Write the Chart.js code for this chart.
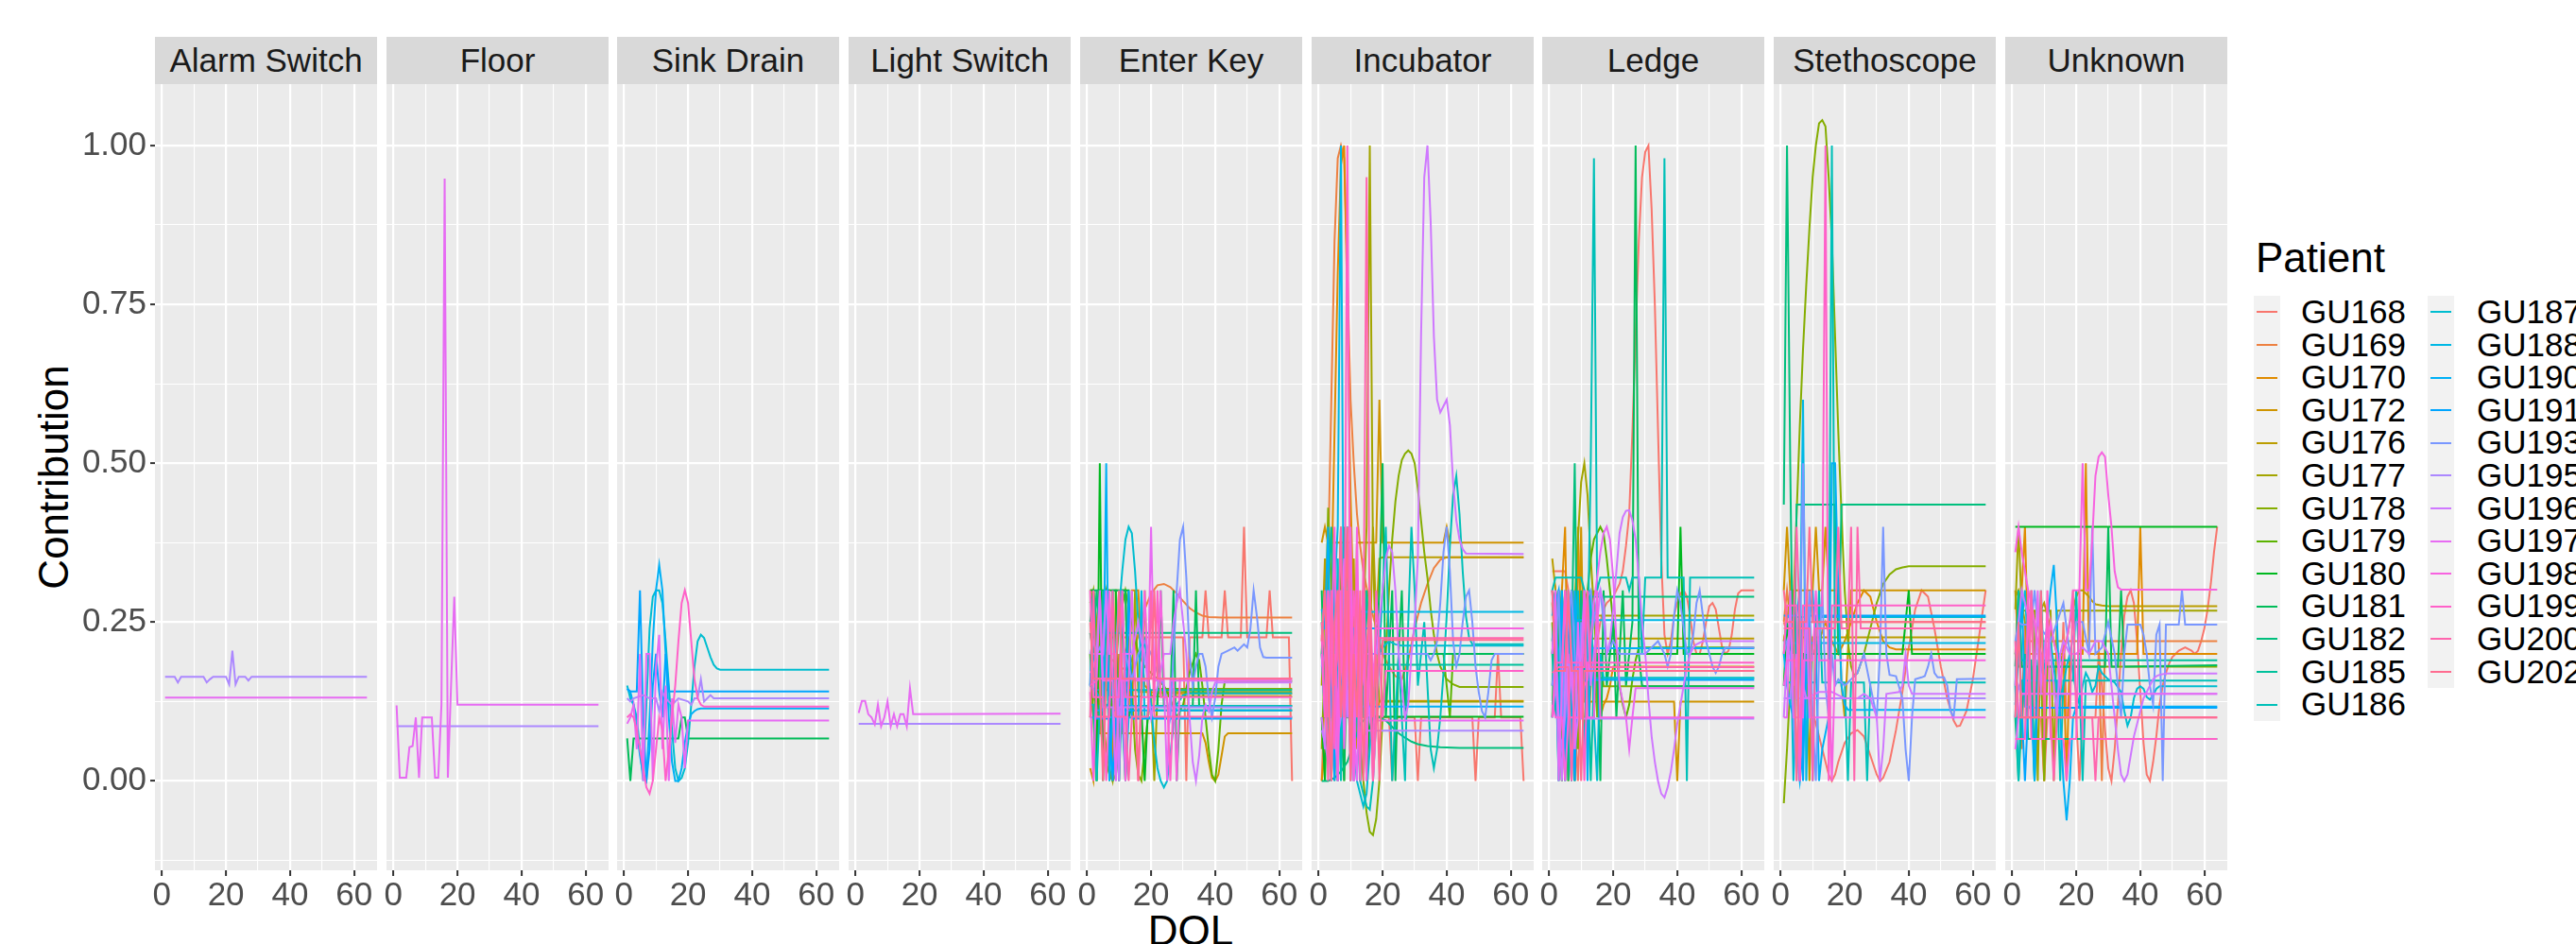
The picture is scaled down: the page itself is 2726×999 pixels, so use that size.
<!DOCTYPE html>
<html>
<head>
<meta charset="UTF-8">
<title>Contribution by DOL</title>
<script src="https://cdn.jsdelivr.net/npm/chart.js@4.4.4/dist/chart.umd.min.js"></script>
<style>
  body { margin: 0; width: 2726px; height: 999px; overflow: hidden; position: relative; background: #fff;
         font-family: "Liberation Sans", Arial, sans-serif; }
  .strip { position: absolute; top: 39px; height: 50px; line-height: 50px; background: #d9d9d9;
           color: #1a1a1a; font-size: 35px; text-align: center; white-space: nowrap; }
  .panel { position: absolute; top: 89px; }
  .title { position: absolute; font-size: 44px; color: #000; white-space: nowrap; }
  .key-bg { position: absolute; background: #f2f2f2; }
  .key-line { position: absolute; height: 2px; }
  .key-text { position: absolute; font-size: 35px; height: 34.6px; line-height: 34.6px; color: #000; white-space: nowrap; }
</style>
</head>
<body>
<div class="title" style="left:-143px;top:480px;width:400px;height:50px;line-height:50px;text-align:center;transform:rotate(-90deg);">Contribution</div>
<div class="title" style="left:1060px;top:963px;width:400px;line-height:44px;text-align:center;">DOL</div>
<div class="title" style="left:2387px;top:251px;line-height:44px;">Patient</div>

<script>
// ---- data -------------------------------------------------------------
const patients = ['GU168','GU169','GU170','GU172','GU176','GU177','GU178','GU179','GU180','GU181','GU182','GU185','GU186',
                  'GU187','GU188','GU190','GU191','GU193','GU195','GU196','GU197','GU198','GU199','GU200','GU202'];
const facets = ['Alarm Switch','Floor','Sink Drain','Light Switch','Enter Key','Incubator','Ledge','Stethoscope','Unknown'];
const xTicks = [0, 10, 20, 30, 40, 50, 60];
const yTicks = [-0.125, 0, 0.125, 0.25, 0.375, 0.5, 0.625, 0.75, 0.875, 1.0];

// each row: patient, flat list of (DOL, contribution) pairs
const alarmSwitch = [
  ['GU195', [1,.164, 4,.164, 5,.155, 6,.164, 13,.164, 14,.155, 15,.16, 16,.164, 20,.164, 21,.152, 22,.205, 23,.152, 24,.164, 26,.164, 27,.158, 28,.164, 64,.164]],
  ['GU197', [1,.131, 64,.131]]
];
const floor = [
  ['GU195', [1,.086, 64,.086]],
  ['GU197', [1,.119, 2,.005, 4,.005, 5,.053, 6,.055, 7,.1, 8,.005, 9,.1, 12,.1, 13,.005, 14,.005, 15,.12, 16,.948, 17,.005, 18,.15, 19,.29, 20,.12, 64,.12]]
];
const sinkDrain = [
  ['GU181', [1,.067, 2,0, 3,.067, 17,.067, 18,.1, 19,.1, 20,.067, 64,.067]],
  ['GU187', [1,.15, 2,.13, 3,.12, 4,.1, 5,.05, 6,0, 7,.12, 8,.24, 9,.29, 10,.3, 11,.3, 12,.28, 13,.22, 14,.15, 15,.08, 16,.02, 17,0, 18,.005, 19,.02, 20,.06, 21,.12, 22,.18, 23,.22, 24,.23, 25,.225, 26,.21, 27,.195, 28,.183, 29,.177, 30,.175, 64,.175]],
  ['GU190', [1,.145, 2,.14, 3,.12, 4,.08, 5,.04, 6,.01, 7,0, 8,.1, 9,.22, 10,.3, 11,.34, 12,.3, 13,.2, 14,.1, 15,.03, 16,0, 17,0, 18,.02, 19,.06, 20,.09, 21,.105, 22,.11, 23,.113, 24,.114, 64,.114]],
  ['GU191', [1,.145, 2,.141, 4,.141, 5,.3, 6,.1, 7,0, 8,.05, 9,.15, 10,.2, 11,.141, 12,.1, 13,.2, 14,.141, 64,.141]],
  ['GU195', [1,.13, 2,.125, 3,.13, 6,.135, 8,.13, 10,.13, 11,.11, 12,.14, 13,.13, 15,.12, 17,.13, 20,.125, 21,.12, 22,.13, 23,.13, 24,.16, 25,.125, 26,.13, 27,.135, 28,.13, 64,.13]],
  ['GU197', [1,.09, 2,.1, 3,.12, 4,.05, 5,.2, 6,0, 7,.2, 8,.2, 9,0, 10,.18, 11,.23, 12,.05, 13,.15, 14,0, 15,.13, 16,.06, 17,.12, 18,.1, 19,.02, 20,.095, 64,.095]],
  ['GU199', [1,.1, 2,.105, 3,.1, 4,.08, 5,.05, 6,.02, 7,-.01, 8,-.02, 9,0, 10,.05, 11,.1, 12,.08, 13,0, 14,.05, 15,.1, 16,.15, 17,.22, 18,.28, 19,.3, 20,.28, 21,.22, 22,.16, 23,.13, 24,.12, 25,.117, 64,.117]]
];
const lightSwitch = [
  ['GU195', [1,.09, 64,.09]],
  ['GU197', [1,.107, 2,.126, 3,.126, 4,.105, 5,.1, 6,.089, 7,.12, 8,.086, 9,.1, 10,.125, 11,.086, 12,.105, 13,.086, 14,.105, 15,.105, 16,.086, 17,.146, 18,.105, 64,.106]]
];
const enterKey = [
  ['GU168', [1,.226, 9,.226, 10,.3, 11,.226, 13,.226, 14,.1, 15,.226, 30,.226, 31,0, 32,.226, 36,.226, 37,.3, 38,.226, 42,.226, 43,.3, 44,.226, 48,.226, 49,.4, 50,.226, 56,.226, 57,.3, 58,.226, 63,.226, 64,0]],
  ['GU169', [1,.3, 2,.29, 3,.25, 4,.22, 6,.2, 8,.19, 10,.18, 12,.175, 14,.19, 16,.23, 18,.27, 20,.295, 22,.308, 24,.31, 26,.305, 28,.295, 30,.283, 32,.272, 34,.265, 36,.26, 38,.258, 42,.257, 64,.257]],
  ['GU170', [1,.3, 2,.3, 3,.2, 4,.3, 7,.3, 8,0, 9,.3, 12,.3, 13,.1, 14,.3, 16,.3, 17,.2, 18,.15, 20,.14, 22,.137, 64,.137]],
  ['GU172', [1,.02, 2,0, 3,.15, 4,.075, 9,.075, 10,.2, 11,.075, 36,.075, 37,.06, 38,.03, 39,.005, 40,0, 41,.01, 42,.04, 43,.07, 44,.075, 64,.075]],
  ['GU176', [1,.1, 2,.13, 5,.133, 6,.3, 7,.133, 11,.133, 12,0, 13,.133, 17,.133, 18,.3, 19,.133, 64,.133]],
  ['GU177', [1,.3, 2,.3, 3,.25, 4,.2, 5,.1, 6,.05, 7,.02, 8,0, 9,.05, 10,.14, 14,.14, 15,.3, 16,.14, 20,.14, 21,0, 22,.14, 64,.14]],
  ['GU178', [1,.28, 2,.3, 3,.22, 4,.1, 5,.05, 6,.03, 7,.01, 8,0, 9,.01, 10,.05, 11,.12, 12,.2, 13,.22, 14,.15, 15,.05, 16,.01, 17,0, 18,.05, 19,.1, 20,.13, 22,.145, 64,.145]],
  ['GU179', [1,.2, 3,0, 4,.25, 6,.3, 8,.1, 10,.25, 12,.3, 14,.25, 16,.2, 18,.18, 20,.17, 22,.16, 24,.15, 26,.13, 28,.1, 30,.12, 32,.17, 34,.2, 35,.19, 36,.15, 37,.1, 38,.05, 39,.01, 40,0, 41,.05, 42,.12, 43,.157, 64,.157]],
  ['GU180', [1,.3, 2,.3, 3,0, 4,.5, 5,0, 6,.3, 9,.3, 10,0, 11,.3, 13,.3, 14,.111, 17,.111, 18,0, 19,.111, 64,.111]],
  ['GU181', [1,.25, 2,.3, 6,.3, 7,0, 8,.3, 12,.3, 13,.1, 14,.118, 22,.118, 23,.3, 24,.118, 26,.118, 27,.3, 28,0, 29,.118, 33,.118, 34,.3, 35,.118, 64,.118]],
  ['GU182', [1,.233, 2,.2, 3,.3, 4,.233, 64,.233]],
  ['GU185', [1,.15, 2,.143, 4,.143, 5,.3, 6,.143, 9,.143, 10,0, 11,.143, 64,.143]],
  ['GU186', [1,.12, 2,.12, 3,0, 4,.118, 7,.118, 8,.3, 9,.118, 64,.118]],
  ['GU187', [1,.15, 3,.14, 5,.12, 7,.12, 8,.15, 9,.2, 10,.27, 11,.33, 12,.38, 13,.4, 14,.39, 15,.33, 16,.25, 17,.2, 18,.22, 19,.18, 20,.12, 21,.06, 22,.02, 23,0, 24,-.01, 25,0, 26,.04, 27,.09, 28,.12, 30,.135, 32,.138, 64,.138]],
  ['GU188', [1,.1, 5,.1, 6,.3, 7,.1, 11,.1, 12,0, 13,.1, 16,.1, 17,.3, 18,.1, 64,.1]],
  ['GU190', [1,.15, 2,.2, 3,.111, 5,.111, 6,.5, 7,0, 8,.111, 10,.111, 11,.3, 12,.111, 64,.111]],
  ['GU191', [1,.15, 2,.3, 3,.098, 7,.098, 8,0, 9,.098, 12,.098, 13,.3, 14,.098, 64,.098]],
  ['GU193', [1,.2, 3,.2, 4,.21, 5,.2, 6,.3, 7,.2, 9,.2, 10,.3, 11,.1, 12,.2, 14,.16, 16,.2, 18,.22, 20,.2, 22,.17, 24,.15, 26,.1, 27,.2, 28,.3, 29,.38, 30,.4, 31,.32, 32,.2, 33,.15, 34,.18, 35,.2, 36,.2, 37,.18, 38,.13, 39,.1, 40,.13, 41,.18, 42,.2, 44,.205, 46,.21, 47,.205, 48,.21, 49,.215, 50,.21, 51,.24, 52,.3, 53,.26, 54,.21, 55,.195, 56,.194, 64,.194]],
  ['GU195', [1,.2, 2,.22, 3,.2, 4,.3, 5,.116, 8,.116, 9,0, 10,.116, 64,.116]],
  ['GU196', [1,.17, 2,.18, 3,.2, 5,.2, 6,.3, 7,.2, 9,.2, 10,0, 11,.2, 14,.2, 16,.25, 17,.22, 18,.2, 19,.15, 20,.1, 22,.15, 24,.2, 26,.2, 27,.25, 28,.28, 29,.3, 30,.25, 31,.2, 32,.1, 33,.03, 34,0, 35,.04, 36,.1, 37,.12, 38,.11, 39,.14, 40,.155, 64,.155]],
  ['GU197', [1,.15, 3,.158, 4,.3, 5,.158, 8,.158, 9,0, 10,.158, 13,.158, 14,.3, 15,.158, 19,.158, 20,.4, 21,.158, 24,.158, 25,0, 26,.158, 64,.158]],
  ['GU198', [1,.14, 2,0, 3,.161, 6,.161, 7,.3, 8,.161, 11,.161, 12,0, 13,.161, 17,.161, 18,.3, 19,.161, 22,.161, 23,.3, 24,.161, 27,.161, 28,0, 29,.161, 64,.161]],
  ['GU199', [1,.3, 2,.132, 5,.132, 6,0, 7,.132, 10,.132, 11,.3, 12,.132, 15,.132, 16,0, 17,.132, 21,.132, 22,.3, 23,.132, 25,.132, 26,0, 27,.132, 64,.132]],
  ['GU200', [1,.1, 2,.3, 3,.101, 7,.101, 8,.3, 9,.101, 12,.101, 13,0, 14,.101, 19,.101, 20,.3, 21,.101, 64,.101]],
  ['GU202', [1,.25, 2,.161, 4,.161, 5,0, 6,.161, 9,.161, 10,.3, 11,.161, 15,.161, 16,0, 17,.161, 20,.161, 21,.3, 22,.161, 64,.161]]
];
const incubator = [
  ['GU168', [1,.1, 4,.1, 5,.2, 6,.1, 22,.1, 23,0, 24,.1, 30,.1, 31,0, 32,.1, 48,.1, 49,0, 50,.1, 55,.1, 56,.2, 57,.1, 63,.1, 64,0]],
  ['GU169', [1,0, 2,.15, 3,.35, 4,.6, 5,.85, 6,.98, 7,1.0, 8,.98, 9,.8, 10,.6, 11,.5, 12,.42, 13,.37, 14,.33, 16,.28, 18,.24, 20,.2, 22,.18, 24,.165, 26,.16, 28,.19, 30,.24, 32,.28, 34,.31, 36,.335, 38,.348, 40,.352, 64,.352]],
  ['GU170', [1,0, 2,.05, 3,.15, 4,.3, 5,.55, 6,.8, 7,.97, 8,1.0, 9,.75, 10,.45, 11,.25, 12,.15, 13,.2, 14,.3, 15,.2, 16,.1, 17,.05, 18,.1, 19,.126, 64,.126]],
  ['GU172', [1,.375, 2,.4, 3,.375, 10,.375, 11,.1, 12,.375, 18,.375, 19,.6, 20,.375, 39,.375, 40,.4, 41,.375, 64,.375]],
  ['GU176', [1,.2, 2,.35, 3,.1, 4,.3, 5,.05, 6,.25, 7,.4, 8,.1, 9,.3, 10,.15, 11,.35, 12,.05, 13,.2, 14,.3, 15,.1, 16,.2, 17,.4, 18,.25, 19,.35, 20,.352, 64,.352]],
  ['GU177', [1,.15, 2,.3, 3,.05, 4,.2, 5,.35, 6,.1, 7,.25, 8,0, 9,.3, 10,.15, 11,.05, 12,.3, 13,.1, 14,.25, 15,.4, 16,1.0, 17,.35, 18,.2, 19,.125, 64,.125]],
  ['GU178', [1,.05, 2,.2, 3,.43, 4,.3, 5,.2, 6,.3, 7,.25, 8,.2, 9,.22, 10,.2, 11,.18, 12,.12, 13,.06, 14,0, 15,-.05, 16,-.08, 17,-.085, 18,-.06, 19,0, 20,.1, 21,.2, 22,.3, 23,.38, 24,.44, 25,.48, 26,.505, 27,.515, 28,.52, 29,.515, 30,.5, 31,.46, 32,.41, 33,.36, 34,.32, 35,.27, 36,.23, 37,.2, 38,.18, 40,.16, 42,.152, 44,.148, 64,.148]],
  ['GU179', [1,.2, 2,.1, 3,.3, 4,.15, 5,0, 6,.2, 7,.35, 8,.1, 9,.2, 10,.3, 11,.05, 12,.2, 13,.25, 14,.1, 15,.3, 16,.2, 17,.15, 18,.2, 39,.2, 40,.15, 41,.1, 42,.2, 64,.2]],
  ['GU180', [1,.1, 2,0, 3,.2, 4,.3, 5,.1, 6,0, 7,.2, 8,.4, 9,.1, 10,.2, 11,.05, 12,.3, 13,.1, 14,.2, 15,0, 16,.1, 17,.101, 64,.101]],
  ['GU181', [1,.3, 2,.1, 3,.25, 4,0, 5,.2, 6,.3, 7,.1, 8,0, 9,.25, 10,.3, 11,.1, 12,.2, 13,0, 14,.3, 15,.15, 16,.25, 17,.05, 18,.2, 19,.3, 20,.5, 21,.1, 22,.2, 23,.3, 24,0, 25,.2, 26,.3, 27,.1, 28,.2, 64,.2]],
  ['GU182', [1,0, 3,0, 5,.005, 7,.015, 9,.03, 11,.06, 13,.09, 15,.1, 17,.1, 19,.1, 21,.095, 23,.085, 25,.075, 27,.068, 29,.062, 31,.058, 34,.055, 38,.053, 44,.052, 64,.052]],
  ['GU185', [1,.25, 2,.1, 3,.3, 4,.4, 5,.2, 6,.05, 7,.3, 8,.15, 9,.4, 10,.2, 11,0, 12,.3, 13,.2, 14,.1, 15,.3, 16,.183, 64,.183]],
  ['GU186', [1,.2, 2,.3, 3,.1, 4,0, 5,.3, 6,.2, 7,0, 8,.3, 9,.15, 10,.05, 11,.2, 12,.1, 13,0, 14,-.02, 15,-.04, 16,-.045, 17,0, 18,.1, 19,.2, 20,.3, 21,.4, 22,.2, 23,0, 24,.1, 25,.2, 26,.1, 27,0, 28,.25, 29,.4, 30,.3, 31,.15, 32,.2, 33,.25, 34,.15, 35,.05, 36,.02, 37,.05, 38,.1, 39,.17, 40,.26, 41,.37, 42,.45, 43,.48, 44,.42, 45,.33, 46,.26, 47,.225, 48,.215, 64,.215]],
  ['GU187', [1,.27, 2,.25, 3,.2, 4,.3, 5,.1, 6,.35, 7,.05, 8,.2, 9,.3, 10,.1, 11,.05, 12,0, 13,-.02, 14,-.04, 15,-.02, 16,.05, 17,.15, 18,.2, 19,.2, 20,.21, 22,.22, 24,.215, 26,.213, 64,.213]],
  ['GU188', [1,.27, 2,.26, 3,.2, 4,.1, 5,.3, 6,.4, 7,1.0, 8,.1, 9,.3, 10,0, 11,.2, 12,.27, 13,.266, 64,.266]],
  ['GU190', [1,.24, 2,.24, 3,.4, 4,.1, 5,.2, 6,0, 7,.3, 8,.2, 9,.4, 10,.05, 11,.117, 64,.117]],
  ['GU191', [1,.2, 2,.1, 3,.3, 4,.2, 5,0, 6,.25, 7,.15, 8,.3, 9,.1, 10,.2, 11,.24, 64,.24]],
  ['GU193', [1,.18, 2,.2, 3,.15, 4,.3, 5,.2, 6,.1, 7,.2, 8,.3, 9,.15, 10,.2, 12,.2, 13,.15, 14,.25, 15,.2, 34,.2, 35,.19, 36,.2, 37,.22, 38,.28, 39,.36, 40,.4, 41,.33, 42,.22, 43,.18, 44,.2, 45,.25, 46,.29, 47,.3, 48,.25, 49,.18, 50,.14, 51,.11, 52,.1, 53,.14, 54,.19, 55,.2, 64,.2]],
  ['GU195', [1,.08, 2,.06, 3,.03, 4,.09, 5,.08, 6,.07, 7,.1, 8,.2, 9,.3, 10,.1, 11,0, 12,.3, 13,.1, 14,.2, 15,.079, 64,.079]],
  ['GU196', [1,.1, 2,.05, 3,.2, 4,.3, 5,.1, 6,0, 7,.25, 8,.35, 9,.1, 10,.2, 11,0, 12,.3, 13,.1, 14,.2, 15,.15, 16,.1, 17,.15, 18,.2, 19,.25, 20,.3, 21,.35, 22,.37, 23,.36, 24,.3, 25,.2, 26,.15, 27,.1, 28,.12, 29,.2, 30,.25, 31,.35, 32,.7, 33,.95, 34,1.0, 35,.88, 36,.7, 37,.6, 38,.58, 39,.59, 40,.6, 41,.56, 42,.47, 43,.41, 44,.38, 45,.365, 46,.358, 64,.357]],
  ['GU197', [1,.2, 2,.1, 3,.3, 4,0, 5,.2, 6,.1, 7,.3, 8,.05, 9,.2, 10,.4, 11,.1, 12,0, 13,.2, 14,.3, 15,.1, 16,.2, 17,0, 18,.095, 64,.095]],
  ['GU198', [1,.22, 2,.3, 3,.1, 4,.2, 5,.4, 6,0, 7,.3, 8,.1, 9,.2, 10,.3, 11,0, 12,.4, 13,.1, 14,.2, 15,0, 16,.3, 17,.15, 18,.24, 64,.24]],
  ['GU199', [1,.23, 2,.1, 3,.3, 4,.2, 5,.05, 6,.3, 7,.2, 8,.1, 9,1.0, 10,.1, 11,.3, 12,.2, 13,0, 14,.35, 15,.1, 16,.2, 17,0, 18,.3, 19,.2, 20,.1, 21,.173, 64,.173]],
  ['GU200', [1,.25, 2,.2, 3,0, 4,.3, 5,.15, 6,.2, 7,.4, 8,.1, 9,.3, 10,0, 11,.2, 12,.3, 13,.1, 14,.2, 15,.95, 16,.2, 17,0, 18,.1, 19,.225, 64,.225]],
  ['GU202', [1,.22, 2,.3, 3,.15, 4,0, 5,.25, 6,.3, 7,.1, 8,.2, 9,.4, 10,0, 11,.2, 12,.1, 13,.3, 14,0, 15,.2, 16,.3, 17,.1, 18,.2, 19,0, 20,.222, 64,.222]]
];
const ledge = [
  ['GU168', [1,.33, 5,.33, 6,.3, 7,.2, 8,.1, 9,0, 10,.15, 11,.2, 12,.25, 13,.2, 14,.15, 15,.22, 16,.25, 17,.27, 18,.28, 20,.29, 22,.31, 23,.33, 24,.37, 25,.42, 26,.55, 27,.7, 28,.85, 29,.95, 30,.99, 31,1.0, 32,.9, 33,.75, 34,.55, 35,.35, 36,.23, 37,.2, 38,.22, 39,.26, 40,.28, 41,.295, 42,.3, 43,.29, 44,.26, 45,.22, 46,.2, 47,.2, 48,.22, 49,.25, 50,.275, 51,.28, 52,.27, 53,.24, 54,.21, 55,.2, 56,.205, 57,.23, 58,.27, 59,.295, 60,.3, 64,.3]],
  ['GU169', [1,.28, 2,.3, 3,.2, 4,.1, 5,.3, 6,0, 7,.2, 8,.3, 9,.15, 10,.25, 11,.18, 12,.2, 13,.173, 64,.173]],
  ['GU170', [1,.3, 2,.25, 3,.15, 4,.3, 5,.4, 6,.1, 7,.2, 8,0, 9,.4, 10,.2, 11,.3, 12,.05, 13,.15, 14,.2, 15,.15, 16,.1, 17,.12, 18,.13, 19,.15, 20,.18, 64,.18]],
  ['GU172', [1,.3, 2,.2, 3,.1, 4,.3, 5,.15, 6,0, 7,.25, 8,.125, 9,.125, 10,.4, 11,.125, 39,.125, 40,0, 41,.125, 64,.125]],
  ['GU176', [1,.35, 2,.3, 3,.25, 4,.1, 5,.3, 6,.2, 7,0, 8,.15, 9,.3, 10,.2, 11,.05, 12,.224, 64,.224]],
  ['GU177', [1,.28, 2,.2, 3,.1, 4,.05, 5,.1, 6,.15, 7,.2, 8,.28, 9,.38, 10,.47, 11,.5, 12,.45, 13,.35, 14,.27, 15,.26, 64,.26]],
  ['GU178', [1,.25, 2,.15, 3,.3, 4,0, 5,.2, 6,.1, 7,.3, 8,.2, 9,.05, 10,.2, 11,.3, 12,.15, 13,.2, 14,.3, 15,.1, 16,.2, 17,.149, 64,.149]],
  ['GU179', [1,.2, 2,.3, 3,.05, 4,.2, 5,.1, 6,.15, 8,.2, 10,.25, 12,.3, 13,.35, 14,.38, 15,.39, 16,.4, 17,.39, 18,.35, 19,.3, 20,.25, 21,.2, 22,.15, 23,.12, 24,.1, 25,.12, 26,.16, 27,.19, 28,.21, 64,.21]],
  ['GU180', [1,.1, 2,.3, 3,.2, 4,0, 5,.25, 6,.1, 7,.2, 40,.2, 41,.4, 42,.2, 64,.2]],
  ['GU181', [1,.15, 2,.25, 3,0, 4,.3, 5,.1, 6,.2, 7,.3, 8,0, 9,.2, 10,.1, 11,.25, 12,.05, 13,.3, 14,.1, 15,.2, 16,0, 17,.3, 18,.15, 19,.2, 20,.25, 21,.1, 22,.2, 23,.3, 24,.15, 25,.2, 26,.25, 27,1.0, 28,.2, 29,.15, 30,.149, 64,.149]],
  ['GU182', [1,.22, 2,.29, 3,.1, 4,.3, 5,.2, 6,0, 7,.2, 8,.5, 9,.1, 10,.3, 11,.2, 12,.05, 13,.29, 64,.29]],
  ['GU185', [1,.2, 2,.1, 3,.3, 4,.25, 5,0, 6,.2, 7,.3, 8,.1, 9,.25, 10,.15, 11,.3, 12,.2, 13,0, 14,.162, 64,.162]],
  ['GU186', [1,.3, 2,.32, 10,.32, 11,.3, 12,.2, 13,.5, 14,.98, 15,.3, 16,.32, 24,.32, 25,.3, 26,.32, 28,.32, 29,.2, 30,.32, 35,.32, 36,.98, 37,.32, 42,.32, 43,0, 44,.32, 64,.32]],
  ['GU187', [1,.3, 2,.25, 3,.2, 4,.15, 5,.3, 6,.1, 7,0, 8,.2, 9,.3, 10,.15, 11,.05, 12,.2, 13,.3, 14,.1, 15,0, 16,.2, 17,.162, 64,.162]],
  ['GU188', [1,.26, 2,.3, 3,.1, 4,.25, 5,0, 6,.2, 7,.3, 8,.15, 9,.253, 64,.253]],
  ['GU190', [1,.1, 2,.2, 3,0, 4,.3, 5,.1, 6,.25, 7,0, 8,.3, 9,.2, 10,.1, 11,.3, 12,0, 13,.209, 64,.209]],
  ['GU191', [1,.2, 2,.28, 3,.3, 4,.2, 5,.05, 6,.3, 7,.15, 8,0, 9,.25, 10,.159, 64,.159]],
  ['GU193', [1,.15, 2,.2, 3,.3, 4,.1, 5,.2, 6,.25, 7,.3, 8,.2, 9,.1, 10,.25, 11,.2, 12,.29, 13,.3, 14,.25, 15,.29, 16,.3, 17,.25, 18,.2, 20,.22, 22,.2, 30,.2, 34,.22, 36,.2, 37,.18, 38,.2, 39,.26, 40,.3, 41,.28, 42,.24, 43,.2, 44,.2, 45,.23, 46,.28, 47,.3, 48,.26, 49,.22, 50,.2, 51,.18, 52,.17, 53,.18, 54,.2, 55,.21, 64,.21]],
  ['GU195', [1,.1, 2,.15, 3,.1, 4,.05, 5,.1, 6,.2, 7,.15, 8,.1, 9,.098, 64,.098]],
  ['GU196', [1,.3, 2,.2, 3,.1, 4,0, 5,.15, 6,.3, 7,.2, 8,.05, 9,.1, 10,.2, 11,.3, 12,.25, 13,.15, 14,.2, 15,.25, 16,.3, 17,.28, 18,.2, 19,.22, 20,.27, 21,.33, 22,.39, 23,.415, 24,.425, 25,.426, 26,.41, 27,.38, 28,.32, 29,.25, 30,.2, 31,.13, 32,.07, 33,.03, 34,0, 35,-.02, 36,-.026, 37,-.01, 38,.015, 39,.05, 40,.09, 41,.12, 42,.15, 43,.18, 44,.2, 45,.21, 46,.215, 48,.22, 64,.22]],
  ['GU197', [1,.2, 2,.3, 3,0, 4,.15, 5,.3, 6,.1, 7,.2, 8,.05, 9,.25, 10,.1, 11,.15, 12,.16, 13,.22, 14,.28, 15,.32, 16,.36, 17,.39, 18,.4, 19,.38, 20,.32, 21,.22, 22,.15, 23,.125, 24,.1, 25,.05, 26,.1, 27,.146, 64,.146]],
  ['GU198', [1,.12, 2,.1, 4,.1, 5,0, 6,.1, 10,.1, 11,.3, 12,.1, 14,.1, 15,.3, 16,.1, 64,.1]],
  ['GU199', [1,.1, 2,.186, 4,.186, 5,.3, 6,.186, 10,.186, 11,0, 12,.186, 64,.186]],
  ['GU200', [1,.17, 3,.179, 6,.179, 7,0, 8,.179, 11,.179, 12,.3, 13,.179, 64,.179]],
  ['GU202', [1,.3, 2,.173, 5,.173, 6,.3, 7,.173, 9,.173, 10,0, 11,.173, 64,.173]]
];
const stethoscope = [
  ['GU168', [1,.25, 3,.22, 5,.2, 7,.17, 9,.13, 11,.09, 13,.05, 15,.01, 16,0, 17,.01, 18,.03, 20,.06, 22,.075, 24,.08, 26,.07, 28,.04, 30,.01, 31,0, 32,.005, 34,.03, 36,.08, 38,.14, 40,.21, 42,.27, 44,.3, 46,.29, 48,.24, 50,.18, 52,.13, 54,.095, 55,.086, 56,.087, 58,.11, 60,.16, 62,.23, 64,.3]],
  ['GU169', [1,.25, 2,.3, 3,.25, 5,.25, 6,0, 7,.25, 64,.25]],
  ['GU170', [1,.22, 2,.25, 3,.2, 4,.3, 5,.15, 6,.2, 8,.2, 9,.25, 10,.2, 12,.22, 14,.25, 16,.22, 18,.2, 20,.22, 22,.25, 24,.28, 26,.3, 28,.29, 30,.25, 32,.22, 34,.21, 36,.207, 64,.207]],
  ['GU172', [1,.3, 2,.4, 3,.3, 10,.3, 11,.4, 12,.3, 13,.3, 14,.4, 15,.3, 18,.3, 19,.15, 20,.1, 21,.2, 22,.3, 64,.3]],
  ['GU176', [1,.22, 2,.25, 3,.3, 4,.226, 8,.226, 9,0, 10,.226, 64,.226]],
  ['GU178', [1,-.035, 2,.05, 3,.15, 4,.28, 5,.42, 6,.56, 7,.68, 8,.78, 9,.87, 10,.95, 11,1.0, 12,1.035, 13,1.04, 14,1.03, 15,.95, 16,.85, 17,.7, 18,.55, 19,.42, 20,.3, 21,.22, 22,.18, 23,.165, 24,.17, 26,.2, 28,.24, 30,.28, 32,.31, 34,.325, 36,.333, 38,.336, 40,.338, 64,.338]],
  ['GU180', [1,.15, 2,.25, 3,.2, 5,.2, 6,0, 7,.2, 38,.2, 39,.25, 40,.3, 41,.2, 64,.2]],
  ['GU182', [1,.435, 2,1.0, 3,.5, 4,.1, 5,.435, 17,.435, 18,.2, 19,.435, 64,.435]],
  ['GU186', [1,.15, 2,.155, 5,.155, 6,.3, 7,.155, 11,.155, 12,.3, 13,.155, 15,.155, 16,1.0, 17,.155, 20,.155, 21,0, 22,.155, 26,.155, 27,0, 28,.155, 64,.155]],
  ['GU187', [1,.2, 2,.258, 3,.258, 4,0, 5,.258, 9,.258, 10,0, 11,.258, 64,.258]],
  ['GU188', [1,.22, 3,.217, 6,.217, 7,.6, 8,0, 9,.217, 64,.217]],
  ['GU190', [1,.2, 2,.15, 3,.12, 4,.1, 5,.05, 6,0, 7,.05, 8,.15, 9,.25, 10,.3, 11,.2, 12,0, 13,.05, 15,.1, 16,.5, 17,.5, 18,.3, 19,.15, 20,.12, 21,.112, 64,.112]],
  ['GU191', [1,.26, 5,.26, 6,.3, 7,0, 8,.26, 64,.26]],
  ['GU193', [1,.2, 2,.22, 3,.2, 4,.1, 5,0, 6,.2, 7,.5, 8,.2, 9,.3, 10,.1, 11,0, 12,.2, 13,.3, 14,.15, 15,.1, 16,.2, 17,.15, 18,.16, 20,.15, 22,.16, 24,.17, 26,.2, 28,.15, 30,.1, 31,.2, 32,.4, 33,.2, 34,.167, 36,.165, 38,.13, 39,.05, 40,0, 41,.1, 42,.16, 44,.163, 45,.165, 46,.18, 47,.2, 48,.17, 49,.163, 51,.163, 52,.15, 53,.11, 54,.1, 55,.16, 64,.161]],
  ['GU195', [1,.13, 3,.13, 4,.2, 5,.13, 64,.13]],
  ['GU196', [1,.1, 2,.2, 3,.25, 4,.15, 5,.2, 6,.1, 7,.15, 8,.13, 12,.14, 16,.14, 20,.13, 24,.13, 26,.137, 28,.13, 30,.1, 31,0, 32,.05, 33,.137, 37,.14, 38,.15, 39,.2, 40,.15, 41,.137, 64,.137]],
  ['GU197', [1,.1, 2,.1, 3,.3, 4,.1, 7,.1, 8,.3, 9,.1, 64,.1]],
  ['GU198', [1,.15, 2,.19, 5,.19, 6,0, 7,.19, 10,.19, 11,.3, 12,.19, 15,.19, 16,0, 17,.19, 64,.19]],
  ['GU199', [1,.2, 2,.276, 5,.276, 6,0, 7,.276, 13,.276, 14,1.0, 15,0, 16,.276, 64,.276]],
  ['GU200', [1,.24, 4,.24, 5,.4, 6,.24, 9,.24, 10,0, 11,.24, 17,.24, 18,.4, 19,.24, 21,.24, 22,.4, 23,0, 24,.4, 25,.24, 64,.24]],
  ['GU202', [1,.3, 2,.25, 4,.25, 5,0, 6,.25, 8,.25, 9,.4, 10,.25, 64,.25]]
];
const unknown = [
  ['GU168', [1,.1, 3,.1, 4,.25, 5,.1, 9,.1, 10,0, 11,.1, 15,.1, 16,.25, 17,.1, 20,.1, 21,0, 22,.1, 26,.1, 27,.2, 28,.15, 29,.08, 30,.02, 31,0, 32,.05, 33,.12, 34,.2, 35,.26, 36,.29, 37,.3, 38,.28, 39,.22, 40,.14, 41,.06, 42,.01, 43,0, 44,.03, 45,.07, 46,.12, 47,.15, 48,.17, 49,.185, 50,.195, 51,.2, 52,.205, 54,.21, 56,.205, 57,.2, 58,.205, 59,.22, 60,.24, 61,.27, 62,.31, 63,.36, 64,.4]],
  ['GU169', [1,.2, 2,.3, 3,.05, 4,.22, 27,.22, 28,0, 29,.22, 64,.22]],
  ['GU170', [1,.3, 2,.2, 4,.4, 5,.2, 9,.2, 10,0, 11,.2, 16,.2, 17,0, 18,.2, 22,.2, 23,.5, 24,.2, 39,.2, 40,.4, 41,.2, 64,.2]],
  ['GU176', [1,.29, 2,.3, 3,.28, 4,.25, 5,.2, 6,.15, 7,.2, 8,.25, 9,.27, 10,.28, 11,.26, 12,.24, 13,.22, 14,.2, 15,.19, 16,.2, 17,.22, 18,.25, 19,.27, 20,.29, 21,.3, 22,.3, 23,.295, 24,.29, 25,.283, 26,.278, 28,.276, 30,.275, 64,.275]],
  ['GU177', [1,.27, 2,.4, 3,.268, 7,.268, 8,0, 9,.268, 12,.268, 13,0, 14,.268, 64,.268]],
  ['GU178', [1,.2, 2,.18, 5,.18, 6,.3, 7,.18, 9,.18, 10,0, 11,.18, 64,.18]],
  ['GU180', [1,.4, 64,.4]],
  ['GU181', [1,.18, 2,.3, 3,.18, 6,.18, 7,0, 8,.18, 29,.18, 30,.4, 31,.18, 33,.18, 34,.3, 35,.18, 64,.182]],
  ['GU182', [1,.1, 2,0, 3,.1, 4,.2, 5,.066, 64,.066]],
  ['GU185', [1,.15, 2,.3, 3,.19, 6,.19, 7,0, 8,.19, 64,.19]],
  ['GU186', [1,.15, 2,0, 3,.158, 8,.158, 9,.3, 10,.158, 14,.158, 15,0, 16,.158, 19,.158, 20,.3, 21,.158, 22,0, 23,.158, 64,.158]],
  ['GU187', [1,.2, 2,.22, 3,.25, 4,.3, 5,.2, 6,.1, 7,.05, 8,.15, 9,.2, 10,.18, 11,.2, 12,.22, 13,.18, 14,.14, 15,.13, 16,.15, 17,.18, 18,.2, 19,.17, 20,.14, 21,.12, 22,.15, 23,.17, 24,.16, 25,.14, 26,.15, 27,.18, 28,.17, 30,.16, 32,.155, 34,.14, 35,.11, 36,.087, 37,.1, 38,.13, 39,.145, 40,.149, 41,.145, 42,.132, 43,.128, 44,.135, 45,.145, 46,.149, 64,.149]],
  ['GU190', [1,.12, 2,.2, 3,.3, 4,.117, 6,.117, 7,0, 8,.15, 10,.2, 11,.25, 12,.3, 13,.34, 14,.25, 15,.1, 16,0, 17,-.062, 18,0, 19,.1, 20,.117, 64,.117]],
  ['GU191', [1,.1, 2,.25, 3,.115, 4,0, 5,.115, 64,.115]],
  ['GU193', [1,.22, 2,.25, 3,.246, 6,.246, 7,.3, 8,.246, 12,.22, 14,.25, 16,.28, 18,.2, 20,.25, 22,.25, 24,.2, 25,.4, 26,.2, 28,.21, 30,.25, 32,.2, 33,.15, 34,.1, 35,.2, 36,.246, 40,.246, 41,.23, 42,.2, 43,.15, 44,.12, 45,.23, 46,.246, 47,0, 48,.246, 52,.246, 53,.3, 54,.246, 64,.246]],
  ['GU195', [1,.1, 2,.15, 3,.137, 5,.137, 6,.3, 7,.137, 64,.137]],
  ['GU196', [1,.15, 2,.25, 3,.3, 4,.28, 5,.26, 6,.27, 7,.25, 8,.2, 9,.15, 10,.2, 11,.25, 12,.2, 13,.15, 14,.1, 15,.2, 16,.22, 18,.2, 20,.2, 22,.21, 24,.2, 26,.22, 28,.22, 29,.21, 30,.2, 31,.15, 32,.1, 33,.05, 34,.01, 35,0, 36,.01, 37,.04, 38,.07, 39,.09, 40,.11, 41,.13, 42,.14, 43,.15, 44,.16, 45,.165, 46,.167, 48,.169, 64,.169]],
  ['GU197', [1,.05, 2,.1, 3,.137, 7,.137, 8,.3, 9,.137, 64,.137]],
  ['GU198', [1,.36, 2,.4, 3,.36, 4,.33, 5,.3, 6,.28, 7,.25, 8,.22, 9,.2, 10,.15, 11,.2, 12,.25, 13,.22, 14,.2, 15,.15, 16,.2, 17,.22, 18,.25, 19,.3, 21,.3, 22,.5, 23,.3, 24,.3, 25,.38, 26,.48, 27,.51, 28,.517, 29,.51, 30,.45, 31,.4, 32,.33, 33,.305, 34,.301, 64,.301]],
  ['GU199', [1,.066, 4,.066, 5,.3, 6,.066, 10,.066, 11,.3, 12,.066, 16,.066, 17,0, 18,.066, 20,.066, 21,.3, 22,.066, 64,.066]],
  ['GU200', [1,.22, 2,.1, 5,.1, 6,.3, 7,.1, 12,.1, 13,0, 14,.1, 18,.1, 19,.3, 20,.1, 25,.1, 26,0, 27,.1, 64,.1]],
  ['GU202', [1,.1, 2,.25, 3,.1, 8,.1, 9,.3, 10,.1, 64,.1]]
];
const facetData = [alarmSwitch, floor, sinkDrain, lightSwitch, enterKey, incubator, ledge, stethoscope, unknown];

// ---- colours: ggplot default hue palette (hcl, c=100, l=65) ---------------
function hcl(h, c, l) {
  const hr = h * Math.PI / 180;
  const U = c * Math.cos(hr), V = c * Math.sin(hr);
  const un = 0.1978398, vn = 0.4683363;
  const Y = 100 * (l > 8 ? Math.pow((l + 16) / 116, 3) : l / 903.3);
  const u = U / (13 * l) + un, v = V / (13 * l) + vn;
  const X = 9 * Y * u / (4 * v);
  const Z = -X / 3 - 5 * Y + 3 * Y / v;
  const x = X / 100, y = Y / 100, z = Z / 100;
  const lin = [ 3.240479 * x - 1.537150 * y - 0.498535 * z,
               -0.969256 * x + 1.875992 * y + 0.041556 * z,
                0.055648 * x - 0.204043 * y + 1.057311 * z];
  return '#' + lin.map(t => {
    t = t <= 0.0031308 ? 12.92 * t : 1.055 * Math.pow(t, 1 / 2.4) - 0.055;
    t = Math.round(Math.min(1, Math.max(0, t)) * 255);
    return t.toString(16).padStart(2, '0');
  }).join('');
}
const colors = {};
patients.forEach((p, i) => { colors[p] = hcl(15 + i * 360 / patients.length, 100, 65); });

// ---- layout -----------------------------------------------------------
const FONT = '"Liberation Sans", Arial, sans-serif';
const PANEL_W = 235, PANEL_STEP = 244.7, PANEL_X0 = 164, PANEL_H = 832, CANVAS_H = 910;
const X_MIN = -2.15, X_MAX = 67.15, Y_MIN = -0.1406, Y_MAX = 1.0966;

const panelBg = {
  id: 'panelBg',
  beforeDraw(chart) {
    const a = chart.chartArea, ctx = chart.ctx;
    ctx.save();
    ctx.fillStyle = '#ebebeb';
    ctx.fillRect(a.left, a.top, a.right - a.left, a.bottom - a.top);
    ctx.restore();
  }
};

const isMajorX = v => v % 20 === 0;
const isMajorY = v => Math.abs(v * 4 - Math.round(v * 4)) < 1e-9;

facets.forEach((name, i) => {
  const left = Math.round(PANEL_X0 + i * PANEL_STEP);
  const strip = document.createElement('div');
  strip.className = 'strip';
  strip.style.left = left + 'px';
  strip.style.width = PANEL_W + 'px';
  strip.textContent = name;
  document.body.appendChild(strip);

  const ml = i === 0 ? left : 12, mr = 12;
  const canvas = document.createElement('canvas');
  canvas.className = 'panel';
  canvas.width = ml + PANEL_W + mr;
  canvas.height = CANVAS_H;
  canvas.style.left = (left - ml) + 'px';
  document.body.appendChild(canvas);

  // later patients are drawn on top, as in the original
  const rows = facetData[i].slice().sort((a, b) => patients.indexOf(b[0]) - patients.indexOf(a[0]));
  const datasets = rows.map(([p, pairs]) => {
    const pts = [];
    for (let k = 0; k < pairs.length; k += 2) pts.push({ x: pairs[k], y: pairs[k + 1] });
    return { label: p, data: pts, borderColor: colors[p], borderWidth: 2, pointRadius: 0, tension: 0, fill: false, clip: 0 };
  });

  new Chart(canvas, {
    type: 'line',
    data: { datasets },
    options: {
      responsive: false, animation: false, events: [],
      layout: { padding: { left: 0, right: mr, top: 0, bottom: 0 } },
      plugins: { legend: { display: false }, tooltip: { enabled: false } },
      scales: {
        x: {
          type: 'linear', min: X_MIN, max: X_MAX,
          afterBuildTicks: s => { s.ticks = xTicks.map(v => ({ value: v })); },
          afterFit: s => { s.height = CANVAS_H - PANEL_H; s.paddingLeft = 0; s.paddingRight = 0; },
          border: { display: false },
          grid: {
            color: '#ffffff',
            lineWidth: c => (c.tick && isMajorX(c.tick.value)) ? 2.2 : 1.1,
            tickColor: c => (c.tick && isMajorX(c.tick.value)) ? '#333333' : 'rgba(0,0,0,0)',
            tickLength: 6, tickWidth: 2
          },
          ticks: {
            autoSkip: false, maxRotation: 0, padding: 0, color: '#4d4d4d',
            font: { family: FONT, size: 35 },
            callback: v => isMajorX(v) ? String(v) : ''
          }
        },
        y: {
          type: 'linear', min: Y_MIN, max: Y_MAX,
          afterBuildTicks: s => { s.ticks = yTicks.map(v => ({ value: v })); },
          afterFit: s => { s.width = ml; s.paddingTop = 0; s.paddingBottom = 0; },
          border: { display: false },
          grid: {
            color: '#ffffff',
            lineWidth: c => (c.tick && isMajorY(c.tick.value)) ? 2.2 : 1.1,
            tickColor: c => (c.tick && isMajorY(c.tick.value)) ? '#333333' : 'rgba(0,0,0,0)',
            drawTicks: i === 0, tickLength: 5, tickWidth: 2
          },
          ticks: {
            display: i === 0, autoSkip: false, padding: 4, color: '#4d4d4d',
            font: { family: FONT, size: 35 },
            callback: v => isMajorY(v) ? v.toFixed(2) : ''
          }
        }
      }
    },
    plugins: [panelBg]
  });
});

// ---- legend -----------------------------------------------------------
const KEY_TOP = 313, KEY_H = 34.6, PER_COL = 13;
const cols = [{ key: 2385, text: 2435 }, { key: 2569, text: 2621 }];
cols.forEach((c, ci) => {
  const items = patients.slice(ci * PER_COL, (ci + 1) * PER_COL);
  const bg = document.createElement('div');
  bg.className = 'key-bg';
  bg.style.cssText = `left:${c.key}px;top:${KEY_TOP}px;width:28px;height:${items.length * KEY_H}px;`;
  document.body.appendChild(bg);
  items.forEach((p, k) => {
    const top = KEY_TOP + k * KEY_H;
    const ln = document.createElement('div');
    ln.className = 'key-line';
    ln.style.cssText = `left:${c.key + 3}px;top:${top + KEY_H / 2 - 1}px;width:22px;background:${colors[p]};`;
    document.body.appendChild(ln);
    const tx = document.createElement('div');
    tx.className = 'key-text';
    tx.style.cssText = `left:${c.text}px;top:${top}px;`;
    tx.textContent = p;
    document.body.appendChild(tx);
  });
});
</script>
</body>
</html>
